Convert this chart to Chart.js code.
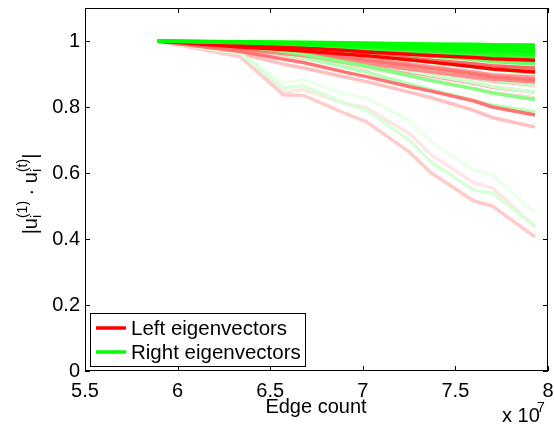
<!DOCTYPE html>
<html>
<head>
<meta charset="utf-8">
<script src="https://cdn.jsdelivr.net/npm/chart.js@4"></script>
<style>
  html, body { margin: 0; padding: 0; background: #fff; }
  canvas { display: block; }
</style>
</head>
<body>
<canvas id="myChart" width="554" height="424"></canvas>
<script>
// edge count, in units of 10^7
const edgeCount = [5.89, 6.34, 6.57, 6.68, 6.91, 7.02, 7.25, 7.37, 7.6, 7.7, 7.93];

// |u_i(1) . u_i(t)| for the left eigenvectors (red)
const leftEig = [
    [1, 0.988, 0.982, 0.979, 0.971, 0.967, 0.960, 0.956, 0.950, 0.946, 0.942],
    [1, 0.982, 0.974, 0.970, 0.960, 0.955, 0.943, 0.936, 0.922, 0.915, 0.906],
    [1, 0.986, 0.978, 0.974, 0.964, 0.959, 0.949, 0.942, 0.931, 0.925, 0.918],
    [1, 0.978, 0.967, 0.962, 0.949, 0.942, 0.926, 0.917, 0.901, 0.892, 0.882],
    [1, 0.990, 0.985, 0.983, 0.977, 0.974, 0.968, 0.964, 0.958, 0.955, 0.951],
    [1, 0.976, 0.962, 0.956, 0.940, 0.932, 0.915, 0.906, 0.890, 0.884, 0.876],
    [1, 0.968, 0.945, 0.935, 0.905, 0.892, 0.862, 0.848, 0.818, 0.800, 0.776],
    [1, 0.982, 0.970, 0.964, 0.952, 0.946, 0.930, 0.922, 0.906, 0.898, 0.890],
    [1, 0.975, 0.960, 0.953, 0.935, 0.926, 0.905, 0.894, 0.872, 0.860, 0.845],
    [1, 0.978, 0.965, 0.958, 0.943, 0.935, 0.917, 0.907, 0.888, 0.878, 0.867],
    [1, 0.962, 0.930, 0.918, 0.890, 0.877, 0.845, 0.828, 0.790, 0.768, 0.739],
    [1, 0.952, 0.837, 0.835, 0.779, 0.755, 0.664, 0.600, 0.515, 0.500, 0.406],
    [1, 0.960, 0.845, 0.852, 0.810, 0.797, 0.720, 0.655, 0.570, 0.555, 0.436],
    [1, 0.972, 0.955, 0.948, 0.928, 0.918, 0.894, 0.882, 0.857, 0.844, 0.828],
];

// same for the right eigenvectors (green)
const rightEig = [
    [1, 0.998, 0.997, 0.996, 0.995, 0.994, 0.992, 0.991, 0.990, 0.989, 0.988],
    [1, 0.997, 0.995, 0.994, 0.991, 0.990, 0.986, 0.985, 0.982, 0.980, 0.978],
    [1, 0.996, 0.993, 0.991, 0.987, 0.985, 0.980, 0.978, 0.973, 0.971, 0.968],
    [1, 0.995, 0.991, 0.989, 0.984, 0.981, 0.975, 0.972, 0.966, 0.963, 0.958],
    [1, 0.994, 0.990, 0.987, 0.980, 0.977, 0.970, 0.966, 0.959, 0.955, 0.950],
    [1, 0.993, 0.988, 0.985, 0.977, 0.973, 0.965, 0.960, 0.952, 0.947, 0.940],
    [1, 0.992, 0.986, 0.982, 0.973, 0.969, 0.959, 0.954, 0.944, 0.938, 0.930],
    [1, 0.985, 0.968, 0.960, 0.935, 0.924, 0.895, 0.880, 0.855, 0.842, 0.823],
    [1, 0.990, 0.981, 0.976, 0.962, 0.956, 0.943, 0.935, 0.922, 0.914, 0.903],
    [1, 0.990, 0.982, 0.977, 0.965, 0.959, 0.946, 0.940, 0.928, 0.922, 0.915],
    [1, 0.982, 0.960, 0.950, 0.920, 0.906, 0.870, 0.852, 0.820, 0.805, 0.785],
    [1, 0.988, 0.975, 0.968, 0.950, 0.942, 0.920, 0.909, 0.890, 0.881, 0.868],
    [1, 0.986, 0.972, 0.963, 0.943, 0.934, 0.910, 0.897, 0.875, 0.862, 0.845],
    [1, 0.962, 0.858, 0.864, 0.810, 0.791, 0.700, 0.633, 0.548, 0.539, 0.440],
    [1, 0.965, 0.873, 0.882, 0.840, 0.827, 0.760, 0.694, 0.609, 0.594, 0.479],
];

const xTicks = [5.5, 6, 6.5, 7, 7.5, 8];
const yTicks = [0, 0.2, 0.4, 0.6, 0.8, 1];
const legendLabels = ["Left eigenvectors", "Right eigenvectors"];

// how strong each line is drawn (1 = full colour, 0 = white)
const leftShade = [1, 1, 0.6, 0.55, 0.5, 0.45, 0.55, 0.4, 0.35, 0.3, 0.25, 0.2, 0.1, 0.15];
const rightShade = [1, 1, 1, 0.9, 0.8, 0.7, 0.6, 0.5, 0.45, 0.35, 0.3, 0.25, 0.2, 0.15, 0.08];

const FONT = "'Liberation Sans', Arial, Helvetica, sans-serif";

function red(a) {
    const c = Math.round(255 * (1 - a));
    return `rgb(255, ${c}, ${c})`;
}
function green(a) {
    const c = Math.round(255 * (1 - a));
    return `rgb(${c}, 255, ${c})`;
}
function toPoints(vals) {
    return vals.map((v, i) => ({ x: edgeCount[i], y: v }));
}

// stronger lines on top (chart.js draws dataset 0 last), greens favoured
let lines = [];
rightEig.forEach((vals, i) => lines.push({ vals: vals, shade: rightShade[i], col: green, rank: rightShade[i] + 0.15 }));
leftEig.forEach((vals, i) => lines.push({ vals: vals, shade: leftShade[i], col: red, rank: leftShade[i] }));
lines.sort((a, b) => b.rank - a.rank);

const datasets = lines.map((l) => ({
    data: toPoints(l.vals),
    borderColor: l.col(l.shade),
    borderWidth: 3.5,
    pointRadius: 0,
    tension: 0,
}));

// box, inward ticks, labels and legend, matlab style
const decorations = {
    id: "decorations",
    afterDraw(chart) {
        const ctx = chart.ctx;
        const { left, right, top, bottom } = chart.chartArea;
        const x = chart.scales.x;
        const y = chart.scales.y;

        ctx.save();
        ctx.strokeStyle = "#000";
        ctx.lineWidth = 1;
        ctx.strokeRect(left + 0.5, top + 0.5, right - left - 1, bottom - top - 1);
        ctx.beginPath();
        xTicks.forEach((v) => {
            const px = Math.round(x.getPixelForValue(v)) + 0.5;
            ctx.moveTo(px, bottom);
            ctx.lineTo(px, bottom - 5);
            ctx.moveTo(px, top);
            ctx.lineTo(px, top + 5);
        });
        yTicks.forEach((v) => {
            const py = Math.round(y.getPixelForValue(v)) + 0.5;
            ctx.moveTo(left, py);
            ctx.lineTo(left + 5, py);
            ctx.moveTo(right, py);
            ctx.lineTo(right - 5, py);
        });
        ctx.stroke();

        // x title and multiplier
        ctx.fillStyle = "#000";
        ctx.font = `20px ${FONT}`;
        ctx.textAlign = "center";
        ctx.textBaseline = "alphabetic";
        ctx.fillText("Edge count", 316, 413);
        ctx.textAlign = "left";
        ctx.fillText("x 10", 502, 422);
        ctx.font = `14px ${FONT}`;
        ctx.fillText("7", 537, 412);

        // y title: |u_i^(1) . u_i^(t)|
        const big = `20px ${FONT}`;
        const small = `14px ${FONT}`;
        const parts = [
            { t: "|", f: big },
            { t: "u", f: big },
            { sub: "i", sup: "(1)" },
            { t: " \u00b7 ", f: big },
            { t: "u", f: big },
            { sub: "i", sup: "(t)" },
            { t: "|", f: big },
        ];
        function width(p) {
            if (p.t) { ctx.font = p.f; return ctx.measureText(p.t).width; }
            ctx.font = small;
            return Math.max(ctx.measureText(p.sub).width, ctx.measureText(p.sup).width);
        }
        const total = parts.reduce((s, p) => s + width(p), 0);
        ctx.save();
        ctx.translate(37, 194);
        ctx.rotate(-Math.PI / 2);
        let cx = -total / 2;
        parts.forEach((p) => {
            const w = width(p);
            if (p.t) {
                ctx.font = p.f;
                ctx.fillText(p.t, cx, 0);
            } else {
                ctx.font = small;
                ctx.fillText(p.sub, cx, 4);
                ctx.fillText(p.sup, cx, -10);
            }
            cx += w;
        });
        ctx.restore();

        // legend box
        const lx = 90, ly = 313, lw = 215, lh = 53;
        ctx.fillStyle = "#fff";
        ctx.fillRect(lx, ly, lw, lh);
        ctx.strokeStyle = "#000";
        ctx.lineWidth = 1;
        ctx.strokeRect(lx + 0.5, ly + 0.5, lw, lh);
        const rows = [
            { c: "rgb(255, 0, 0)", y: ly + 15 },
            { c: "rgb(0, 255, 0)", y: ly + 39 },
        ];
        rows.forEach((r, i) => {
            ctx.strokeStyle = r.c;
            ctx.lineWidth = 3.5;
            ctx.beginPath();
            ctx.moveTo(lx + 6, r.y);
            ctx.lineTo(lx + 36, r.y);
            ctx.stroke();
            ctx.fillStyle = "#000";
            ctx.font = `20.5px ${FONT}`;
            ctx.textAlign = "left";
            ctx.textBaseline = "middle";
            ctx.fillText(legendLabels[i], lx + 41, r.y + 1);
        });
        ctx.restore();
    },
};

const config = {
    type: "line",
    data: { datasets: datasets },
    options: {
        responsive: false,
        animation: false,
        layout: { padding: { top: 8, right: 6, left: 0, bottom: 0 } },
        plugins: {
            legend: { display: false },
            tooltip: { enabled: false },
        },
        scales: {
            x: {
                type: "linear",
                min: 5.5,
                max: 8,
                grid: { display: false, drawTicks: false },
                border: { display: false },
                afterBuildTicks: (s) => { s.ticks = xTicks.map((v) => ({ value: v })); },
                afterFit: (s) => {
                    s.height = 53;
                    s.paddingLeft = 0;
                    s.paddingRight = 0;
                },
                ticks: {
                    padding: 8,
                    color: "#000",
                    font: { family: FONT, size: 20 },
                    maxRotation: 0,
                    callback: (v) => String(v),
                },
            },
            y: {
                min: 0,
                max: 1.1,
                grid: { display: false, drawTicks: false },
                border: { display: false },
                afterBuildTicks: (s) => { s.ticks = yTicks.map((v) => ({ value: v })); },
                afterFit: (s) => {
                    s.width = 85;
                    s.paddingTop = 0;
                    s.paddingBottom = 0;
                },
                ticks: {
                    padding: 5,
                    color: "#000",
                    font: { family: FONT, size: 20 },
                    callback: (v) => String(Math.round(v * 10) / 10),
                },
            },
        },
    },
    plugins: [decorations],
};

const myChart = new Chart(document.getElementById("myChart"), config);
</script>
</body>
</html>
